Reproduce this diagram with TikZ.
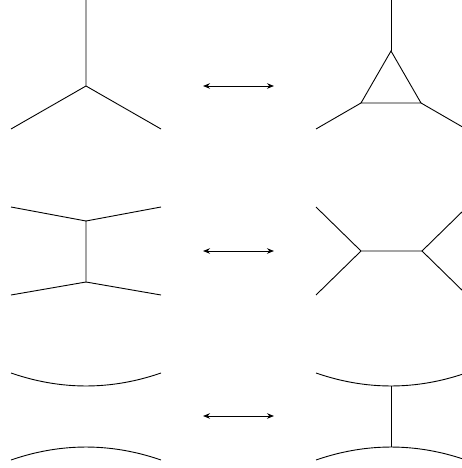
\documentclass[tikz,border=0pt]{standalone}
\usetikzlibrary{arrows.meta}
\begin{document}
\begin{tikzpicture}[x=1pt,y=-1pt,
  edge/.style={line width=0.9pt,black},
  swap/.style={line width=0.9pt,black,{Stealth[length=7pt,width=5.5pt]}-{Stealth[length=7pt,width=5.5pt]}}]
\useasboundingbox (0,0) rectangle (462,468);
\clip (0,0) rectangle (462,468);

% --- row 1: vertex <-> triangle
\coordinate (a0) at (86,-5);
\coordinate (ac) at (86,86);
\coordinate (al) at (11,129);
\coordinate (ar) at (161,129);
\draw[edge] (a0) -- (ac) (ac) -- (al) (ac) -- (ar);

\coordinate (x1l) at (203,86);
\coordinate (x1r) at (274,86);
\draw[swap] (x1l) -- (x1r);

\coordinate (b0) at (391,-5);
\coordinate (bt) at (391,51);
\coordinate (bl) at (361,103);
\coordinate (br) at (421,103);
\coordinate (bel) at (316,129);
\coordinate (ber) at (466,129);
\draw[edge] (b0) -- (bt);
\draw[edge] (bt) -- (bl) -- (br) -- cycle;
\draw[edge] (bl) -- (bel) (br) -- (ber);

% --- row 2: s-channel <-> t-channel
\coordinate (c1) at (86,221);
\coordinate (c2) at (86,282);
\coordinate (c1l) at (11,207);
\coordinate (c1r) at (161,207);
\coordinate (c2l) at (11,295);
\coordinate (c2r) at (161,295);
\draw[edge] (c1l) -- (c1) -- (c1r) (c1) -- (c2);
\draw[edge] (c2l) -- (c2) -- (c2r);

\coordinate (x2l) at (203,251);
\coordinate (x2r) at (274,251);
\draw[swap] (x2l) -- (x2r);

\coordinate (d1) at (361,251);
\coordinate (d2) at (422,251);
\coordinate (d1u) at (316,207);
\coordinate (d1d) at (316,295);
\coordinate (d2u) at (467,207);
\coordinate (d2d) at (467,295);
\draw[edge] (d1u) -- (d1) -- (d1d) (d1) -- (d2);
\draw[edge] (d2u) -- (d2) -- (d2d);

% --- row 3: two arcs <-> arcs joined by a rung
\coordinate (e1l) at (11,373);
\coordinate (e1r) at (161,373);
\coordinate (e2l) at (11,460);
\coordinate (e2r) at (161,460);
\draw[edge] (e1l) .. controls (61,390.3) and (111,390.3) .. (e1r);
\draw[edge] (e2l) .. controls (61,442.7) and (111,442.7) .. (e2r);

\coordinate (x3l) at (203,416);
\coordinate (x3r) at (274,416);
\draw[swap] (x3l) -- (x3r);

\coordinate (f1l) at (316,373);
\coordinate (f1r) at (466,373);
\coordinate (f2l) at (316,460);
\coordinate (f2r) at (466,460);
\coordinate (fu) at (391,386);
\coordinate (fd) at (391,447);
\draw[edge] (f1l) .. controls (366,390.3) and (416,390.3) .. (f1r);
\draw[edge] (f2l) .. controls (366,442.7) and (416,442.7) .. (f2r);
\draw[edge] (fu) -- (fd);
\end{tikzpicture}
\end{document}
